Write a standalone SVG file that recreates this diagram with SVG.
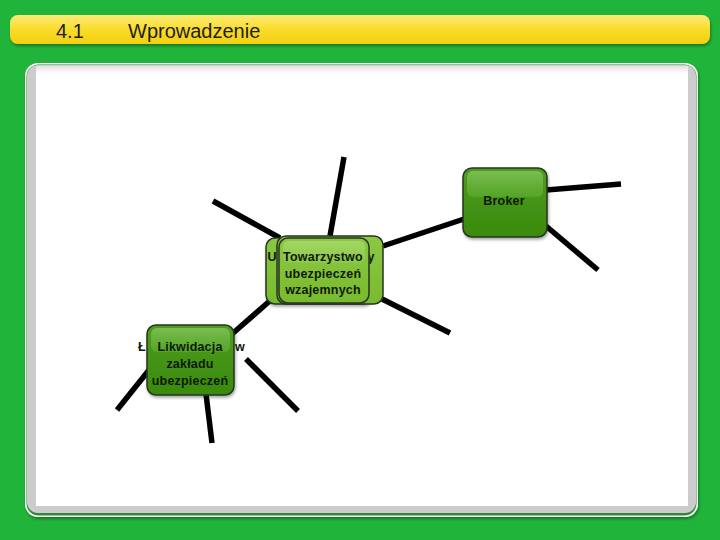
<svg xmlns="http://www.w3.org/2000/svg" width="720" height="540" viewBox="0 0 720 540">
<defs>
<linearGradient id="hdr" x1="0" y1="0" x2="0" y2="1">
<stop offset="0" stop-color="#fdeb78"/><stop offset="0.5" stop-color="#f9dc2a"/><stop offset="1" stop-color="#f2cf10"/>
</linearGradient>
<linearGradient id="dark" x1="0" y1="0" x2="0" y2="1">
<stop offset="0" stop-color="#4f9c20"/><stop offset="1" stop-color="#3a8a0c"/>
</linearGradient>
<linearGradient id="light" x1="0" y1="0" x2="0" y2="1">
<stop offset="0" stop-color="#8cc843"/><stop offset="1" stop-color="#78ba2e"/>
</linearGradient>
<linearGradient id="glossD" x1="0" y1="0" x2="0" y2="1">
<stop offset="0" stop-color="#7fc258" stop-opacity="0.9"/><stop offset="1" stop-color="#5fae34" stop-opacity="0.6"/>
</linearGradient>
<linearGradient id="glossL" x1="0" y1="0" x2="0" y2="1">
<stop offset="0" stop-color="#aadb6e" stop-opacity="0.8"/><stop offset="1" stop-color="#94cf55" stop-opacity="0.5"/>
</linearGradient>
<linearGradient id="topshade" x1="0" y1="0" x2="0" y2="1">
<stop offset="0" stop-color="#e8e0e6"/><stop offset="1" stop-color="#ffffff"/>
</linearGradient>
<filter id="sh" x="-20%" y="-20%" width="140%" height="140%">
<feDropShadow dx="1" dy="2" stdDeviation="1.5" flood-color="#000" flood-opacity="0.35"/>
</filter>
</defs>
<style>
.lbl{font-family:"Liberation Sans",Arial,sans-serif;font-weight:bold;font-size:12.5px;fill:#0f1a05;text-anchor:middle;letter-spacing:0.2px}
.hdr{font-family:"Liberation Sans",Arial,sans-serif;font-size:20px;fill:#1e1e1e}
.conn line{stroke:#000;stroke-width:5.5;stroke-linecap:butt}
.card{stroke:#263520;stroke-width:1.5}
</style>
<rect width="720" height="540" fill="#21b43a"/>
<rect x="10" y="15" width="700" height="29" rx="8" fill="url(#hdr)" filter="url(#sh)"/>
<text class="hdr" x="56" y="38">4.1</text>
<text class="hdr" x="128" y="38">Wprowadzenie</text>
<rect x="25" y="63" width="673" height="454" rx="13" fill="#ffffff" filter="url(#sh)"/>
<rect x="26.5" y="64.5" width="670" height="451" rx="12" fill="#2d8a3a"/>
<rect x="27" y="65" width="669" height="448" rx="11" fill="#cccccc"/>
<rect x="36" y="66" width="652" height="440" fill="#ffffff"/>
<rect x="36" y="66" width="652" height="8" fill="url(#topshade)"/>
<g class="conn" id="connectors">
<line x1="330" y1="236" x2="344" y2="157"/>
<line x1="280" y1="238" x2="213" y2="201"/>
<line x1="383" y1="246" x2="464" y2="219"/>
<line x1="380" y1="298" x2="450" y2="333"/>
<line x1="272" y1="299" x2="232" y2="334"/>
<line x1="546" y1="190" x2="621" y2="184"/>
<line x1="546" y1="226" x2="598" y2="270"/>
<line x1="149" y1="370" x2="117" y2="410"/>
<line x1="206" y1="394" x2="212" y2="443"/>
<line x1="246" y1="359" x2="298" y2="411"/>
</g>
<g id="node-broker">
<rect class="card" x="463" y="168" width="84" height="69" rx="9" fill="url(#dark)" filter="url(#sh)"/>
<rect x="467" y="171" width="76" height="26" rx="6" fill="url(#glossD)"/>
<text class="lbl" x="504" y="205" font-size="11.5">Broker</text>
</g>
<g id="node-towarzystwo">
<rect class="card" x="266" y="238" width="106" height="66" rx="9" fill="url(#light)" filter="url(#sh)"/>
<rect class="card" x="277" y="236" width="106" height="68" rx="9" fill="url(#light)"/>
<text class="lbl" x="272" y="261">U</text>
<text class="lbl" x="371" y="261">y</text>
<rect class="card" x="279" y="238" width="90" height="65" rx="9" fill="url(#light)"/>
<rect x="283" y="241" width="82" height="22" rx="6" fill="url(#glossL)"/>
<text class="lbl" x="323" y="261">Towarzystwo</text>
<text class="lbl" x="323" y="278">ubezpieczeń</text>
<text class="lbl" x="323" y="294">wzajemnych</text>
</g>
<g id="node-likwidacja">
<text class="lbl" x="142" y="351">Ł</text>
<text class="lbl" x="240" y="351">w</text>
<rect class="card" x="147" y="325" width="87" height="70" rx="9" fill="url(#dark)" filter="url(#sh)"/>
<rect x="151" y="328" width="79" height="24" rx="6" fill="url(#glossD)"/>
<text class="lbl" x="190" y="351">Likwidacja</text>
<text class="lbl" x="190" y="368">zakładu</text>
<text class="lbl" x="190" y="385">ubezpieczeń</text>
</g>
</svg>
